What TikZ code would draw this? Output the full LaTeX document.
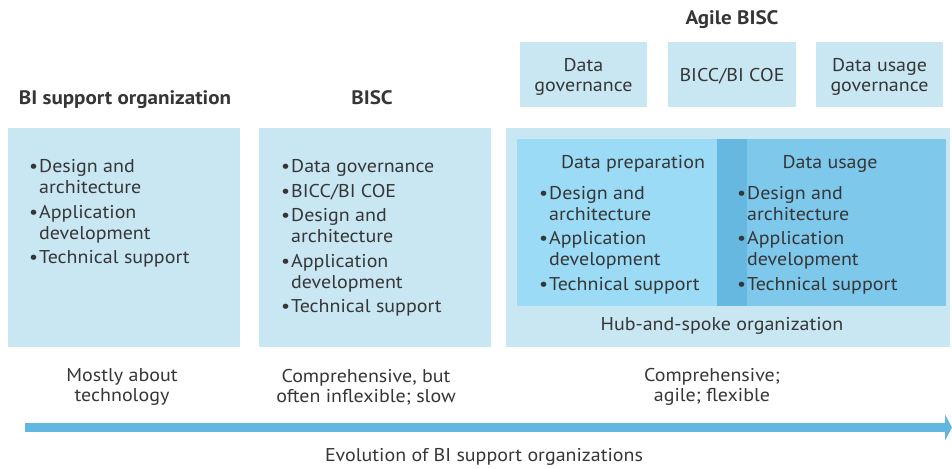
\documentclass[tikz,border=0pt]{standalone}
\usepackage{fontspec}
\setmainfont[FakeStretch=1.08]{PT Sans}
\usetikzlibrary{arrows.meta}

\definecolor{panelblue}{HTML}{C8E7F3}
\definecolor{prepblue}{HTML}{9BDBF5}
\definecolor{usageblue}{HTML}{7EC8EB}
\definecolor{overlapblue}{HTML}{66B8E0}
\definecolor{evoblue}{HTML}{62B7E0}
\definecolor{textgray}{HTML}{363636}

\newcommand{\bl}{\textbullet}

\tikzset{
	panel/.style={fill=panelblue, draw=none, inner sep=0, outer sep=0},
	topbox/.style={panel, minimum width=127, minimum height=65},
	boxtext/.style={text=textgray, font=\fontsize{18.5}{20}\selectfont, align=center, inner sep=0},
	heading/.style={text=textgray, font=\fontsize{19.5}{20}\selectfont\bfseries, anchor=base},
	label/.style={text=textgray, font=\fontsize{18.5}{20}\selectfont, anchor=base},
	listing/.style={text=textgray, font=\fontsize{18.5}{21}\selectfont, anchor=north west, inner sep=0},
	note/.style={text=textgray, font=\fontsize{18.5}{20}\selectfont, align=center}
}

\begin{document}
\begin{tikzpicture}[x=1pt, y=-1pt]
			\useasboundingbox (0,0) rectangle (952,468);

			% headings
			\node[heading]	(agilehead)	at (732,25)		{Agile BISC};
			\node[heading]	(bisohead)	at (125,105)	{BI support organization};
			\node[heading]	(bischead)	at (372,105)	{BISC};

			% agile top boxes
			\node[topbox]	(datagov)	at (583.5,74.5)	{};
			\node[topbox, minimum width=128]	(bicc)	at (732,74.5)	{};
			\node[topbox]	(usagegov)	at (879.5,74.5)	{};
			\node[boxtext]	(datagovtext)	at (583.5,76.5)	{Data\\governance};
			\node[boxtext]	(bicctext)		at (732,76)	{BICC/BI COE};
			\node[boxtext]	(usagegovtext)	at (879.5,76.5)	{Data usage\\governance};

			% panels
			\node[panel, minimum width=232, minimum height=219]	(bisopanel)		at (124,237.5)	{};
			\node[panel, minimum width=232, minimum height=219]	(biscpanel)		at (375,237.5)	{};
			\node[panel, minimum width=444, minimum height=219]	(agilepanel)	at (728,237.5)	{};
			\node[panel, fill=prepblue, minimum width=230, minimum height=167]	(preppanel)		at (632,222.5)	{};
			\node[panel, fill=usageblue, minimum width=229, minimum height=167]	(usagepanel)	at (831.5,222.5)	{};
			\node[panel, fill=overlapblue, minimum width=30, minimum height=167]	(overlap)		at (732,222.5)	{};

			% lists
			\node[listing]	(bisolist)	at (29,158)	{\begin{tabular}{@{}l@{\hspace{1pt}}l@{}}
				\bl	& Design and\\	& architecture\\[3.5pt]
				\bl	& Application\\	& development\\[3.5pt]
				\bl	& Technical support
			\end{tabular}};
			\node[listing]	(bisclist)	at (281,158)	{\begin{tabular}{@{}l@{\hspace{1pt}}l@{}}
				\bl	& Data governance\\[3.5pt]
				\bl	& BICC/BI COE\\[3.5pt]
				\bl	& Design and\\	& architecture\\[3.5pt]
				\bl	& Application\\	& development\\[3.5pt]
				\bl	& Technical support
			\end{tabular}};
			\node[label]	(prephead)	at (633,168)	{Data preparation};
			\node[label]	(usagehead)	at (830,168)	{Data usage};
			\node[listing]	(preplist)	at (539,184.5)	{\begin{tabular}{@{}l@{\hspace{1pt}}l@{}}
				\bl	& Design and\\	& architecture\\[3.5pt]
				\bl	& Application\\	& development\\[3.5pt]
				\bl	& Technical support
			\end{tabular}};
			\node[listing]	(usagelist)	at (737,184.5)	{\begin{tabular}{@{}l@{\hspace{1pt}}l@{}}
				\bl	& Design and\\	& architecture\\[3.5pt]
				\bl	& Application\\	& development\\[3.5pt]
				\bl	& Technical support
			\end{tabular}};
			\node[label]	(hubspoke)	at (722,330)	{Hub-and-spoke organization};

			% notes below the panels
			\node[note]	(bisonote)	at (122,387)	{Mostly about\\technology};
			\node[note]	(biscnote)	at (366,387)	{Comprehensive, but\\often inflexible; slow};
			\node[note]	(agilenote)	at (712,387)	{Comprehensive;\\agile; flexible};

			% evolution arrow
			\coordinate	(evostart)	at (25,427.5);
			\coordinate	(evoend)	at (952,427.5);
			\draw[evoblue, line width=9pt, -{Triangle[length=7pt, width=26pt]}]	(evostart) -- (evoend);
			\node[label]	(evolabel)	at (484,461)	{Evolution of BI support organizations};
		\end{tikzpicture}
\end{document}
